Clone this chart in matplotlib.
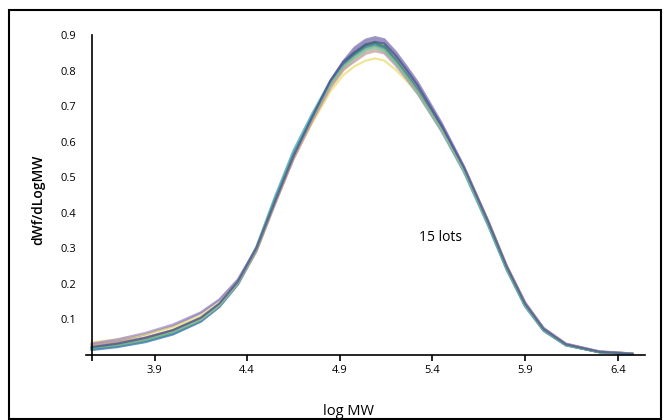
import matplotlib
matplotlib.use("Agg")
import matplotlib.pyplot as plt
from matplotlib.patches import Rectangle

plt.rcParams['font.family'] = ['Open Sans', 'DejaVu Sans']

# shared log MW grid for all lots
log_mw = [3.56, 3.70, 3.85, 4.00, 4.15, 4.25, 4.35, 4.45, 4.55, 4.65, 4.75, 4.85, 4.92, 4.98, 5.04,
          5.09, 5.14, 5.20, 5.26, 5.32, 5.45, 5.57, 5.70, 5.80, 5.90, 6.00, 6.12, 6.30, 6.48]

# dWf/dLogMW for each of the 15 lots
lots = [
    [0.030, 0.040, 0.058, 0.082, 0.118, 0.155, 0.212, 0.300, 0.428, 0.555, 0.665, 0.772, 0.827, 0.865, 0.887, 0.894, 0.888, 0.854, 0.812, 0.768, 0.652, 0.530, 0.378, 0.252, 0.148, 0.076, 0.032, 0.010, 0.004],
    [0.018, 0.026, 0.040, 0.060, 0.095, 0.135, 0.198, 0.292, 0.425, 0.555, 0.662, 0.765, 0.819, 0.860, 0.882, 0.889, 0.882, 0.847, 0.805, 0.760, 0.645, 0.526, 0.374, 0.248, 0.142, 0.072, 0.030, 0.009, 0.004],
    [0.022, 0.030, 0.044, 0.066, 0.100, 0.140, 0.205, 0.305, 0.445, 0.575, 0.678, 0.772, 0.820, 0.845, 0.867, 0.874, 0.862, 0.825, 0.782, 0.738, 0.630, 0.515, 0.365, 0.240, 0.136, 0.068, 0.027, 0.008, 0.003],
    [0.015, 0.024, 0.038, 0.060, 0.096, 0.138, 0.202, 0.300, 0.438, 0.566, 0.670, 0.768, 0.818, 0.850, 0.872, 0.879, 0.868, 0.830, 0.788, 0.742, 0.633, 0.518, 0.368, 0.243, 0.139, 0.069, 0.028, 0.008, 0.003],
    [0.025, 0.034, 0.048, 0.070, 0.104, 0.142, 0.203, 0.296, 0.430, 0.558, 0.662, 0.760, 0.809, 0.840, 0.862, 0.869, 0.860, 0.824, 0.783, 0.740, 0.632, 0.520, 0.372, 0.248, 0.142, 0.072, 0.029, 0.009, 0.004],
    [0.035, 0.044, 0.058, 0.078, 0.110, 0.148, 0.208, 0.302, 0.432, 0.555, 0.652, 0.742, 0.788, 0.812, 0.828, 0.834, 0.828, 0.803, 0.771, 0.735, 0.636, 0.525, 0.378, 0.252, 0.146, 0.074, 0.030, 0.010, 0.004],
    [0.028, 0.036, 0.050, 0.070, 0.102, 0.140, 0.200, 0.292, 0.424, 0.550, 0.656, 0.752, 0.801, 0.830, 0.852, 0.859, 0.852, 0.819, 0.780, 0.738, 0.632, 0.522, 0.376, 0.250, 0.145, 0.073, 0.030, 0.009, 0.004],
    [0.020, 0.030, 0.046, 0.068, 0.102, 0.142, 0.204, 0.298, 0.430, 0.560, 0.668, 0.770, 0.823, 0.855, 0.877, 0.884, 0.876, 0.840, 0.798, 0.752, 0.640, 0.524, 0.372, 0.246, 0.141, 0.071, 0.029, 0.008, 0.003],
    [0.016, 0.024, 0.037, 0.058, 0.094, 0.136, 0.200, 0.300, 0.440, 0.570, 0.672, 0.766, 0.812, 0.835, 0.857, 0.864, 0.855, 0.820, 0.779, 0.735, 0.628, 0.514, 0.364, 0.240, 0.137, 0.068, 0.027, 0.008, 0.003],
    [0.018, 0.026, 0.040, 0.062, 0.097, 0.138, 0.201, 0.297, 0.434, 0.562, 0.668, 0.766, 0.818, 0.848, 0.870, 0.877, 0.868, 0.832, 0.790, 0.745, 0.636, 0.520, 0.370, 0.245, 0.140, 0.070, 0.028, 0.008, 0.003],
    [0.032, 0.044, 0.062, 0.086, 0.120, 0.156, 0.212, 0.302, 0.430, 0.556, 0.664, 0.770, 0.825, 0.860, 0.882, 0.889, 0.884, 0.851, 0.810, 0.765, 0.650, 0.530, 0.378, 0.251, 0.147, 0.075, 0.031, 0.010, 0.004],
    [0.014, 0.022, 0.036, 0.058, 0.094, 0.136, 0.200, 0.298, 0.436, 0.564, 0.668, 0.766, 0.816, 0.842, 0.864, 0.871, 0.862, 0.827, 0.786, 0.742, 0.634, 0.519, 0.369, 0.244, 0.139, 0.069, 0.028, 0.008, 0.003],
    [0.026, 0.034, 0.048, 0.068, 0.100, 0.140, 0.202, 0.296, 0.428, 0.552, 0.658, 0.754, 0.804, 0.825, 0.847, 0.854, 0.848, 0.815, 0.776, 0.735, 0.630, 0.520, 0.374, 0.249, 0.144, 0.073, 0.030, 0.009, 0.004],
    [0.020, 0.028, 0.042, 0.064, 0.099, 0.139, 0.202, 0.298, 0.434, 0.562, 0.666, 0.762, 0.812, 0.838, 0.860, 0.867, 0.858, 0.824, 0.783, 0.740, 0.633, 0.518, 0.369, 0.244, 0.139, 0.070, 0.028, 0.008, 0.003],
    [0.022, 0.032, 0.048, 0.070, 0.105, 0.145, 0.207, 0.301, 0.432, 0.560, 0.668, 0.772, 0.825, 0.852, 0.874, 0.881, 0.876, 0.843, 0.802, 0.758, 0.645, 0.527, 0.375, 0.249, 0.144, 0.073, 0.030, 0.009, 0.003],
]
lot_colors = ['#7b6fa8', '#6a7bb5', '#3aa3a8', '#4c9a5a', '#9aa84a', '#e8dc6a', '#d9a860', '#8a8a9a',
              '#5fc0d0', '#2f7f5f', '#a08cc8', '#4f7fc0', '#c09ab0', '#8cc88c', '#3f4f8f']

x_ticks = [3.9, 4.4, 4.9, 5.4, 5.9, 6.4]
y_ticks = [0.1, 0.2, 0.3, 0.4, 0.5, 0.6, 0.7, 0.8, 0.9]

fig = plt.figure(figsize=(6.68, 4.2), dpi=100)
ax = fig.add_axes([0.1287, 0.1548, 0.8369, 0.7619])

for y, c in zip(lots, lot_colors):
    ax.plot(log_mw, y, color=c, lw=1.6, alpha=0.7, solid_joinstyle='round', solid_capstyle='round')

ax.set_xlim(3.53, 6.547)
ax.set_ylim(0, 0.9)
ax.spines['left'].set_position(('data', 3.56))
ax.spines['top'].set_visible(False)
ax.spines['right'].set_visible(False)
for s in ['left', 'bottom']:
    ax.spines[s].set_linewidth(1.2)

ax.set_xticks(x_ticks)
ax.set_xticklabels([str(v) for v in x_ticks])
ax.set_xticks([3.56], minor=True)
ax.tick_params(axis='x', which='both', direction='out', length=4, width=1.2, labelsize=8, pad=3)
ax.set_yticks(y_ticks)
ax.set_yticklabels([str(v) for v in y_ticks])
ax.tick_params(axis='y', length=0, labelsize=8, pad=11)

ax.text(5.445, 0.33, '15 lots', fontsize=10, ha='center', va='center')
fig.text(0.057, 0.524, 'dWf/dLogMW', rotation=90, fontsize=10, fontweight='semibold',
         ha='center', va='center')
fig.text(0.522, 0.021, 'log MW', fontsize=10.5, ha='center', va='center')

fig.patches.append(Rectangle((0.0135, 0.0024), 0.976, 0.974, transform=fig.transFigure,
                             fill=False, edgecolor='black', lw=1.5))

fig.savefig('out.png', dpi=100)
